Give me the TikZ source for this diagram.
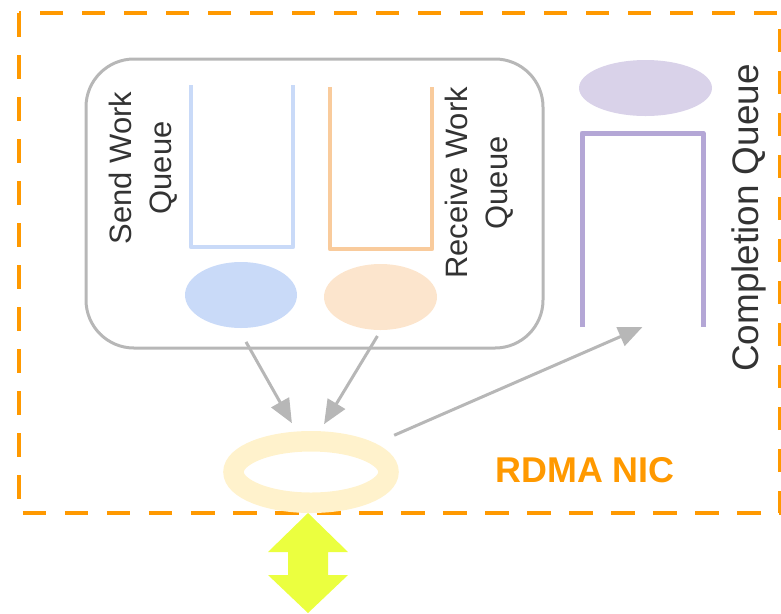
\documentclass[tikz,border=0pt]{standalone}
\usepackage{fontspec}
\setmainfont{Liberation Sans}
\usetikzlibrary{arrows.meta,shapes.geometric}

\definecolor{nicorange}{HTML}{FF9900}
\definecolor{boxgray}{HTML}{B7B7B7}
\definecolor{labelgray}{HTML}{333333}
\definecolor{sendblue}{HTML}{C9DAF8}
\definecolor{recvorange}{HTML}{F9CB9C}
\definecolor{recvpeach}{HTML}{FCE5CD}
\definecolor{cqlilac}{HTML}{D9D2E9}
\definecolor{cqpurple}{HTML}{B4A7D6}
\definecolor{portyellow}{HTML}{FFF2CC}
\definecolor{linkyellow}{HTML}{EBFF3F}

\begin{document}
\begin{tikzpicture}[
        wqframe/.style={draw=boxgray, line width=0.06cm, rounded corners=0.96cm,
                        minimum width=9.14cm, minimum height=5.78cm},
        slot/.style={minimum width=2.04cm, minimum height=3.24cm, inner sep=0, outer sep=0},
        entry/.style={ellipse, inner sep=0, outer sep=0,
                      minimum width=2.24cm, minimum height=1.32cm},
        qline/.style={line width=0.09cm, line join=round},
        lbl/.style={rotate=90, align=center, text=labelgray,
                    font=\fontsize{17.6}{22.5}\selectfont},
        arr/.style={-{Triangle[length=0.48cm, width=0.4cm]}, draw=boxgray, line width=0.06cm}
    ]
    \useasboundingbox (0,0) rectangle (15.62,-12.26);

    % NIC boundary
    \draw[nicorange, line width=0.08cm, dash pattern=on 0.47cm off 0.37cm]
        (0.38,-0.26) rectangle (15.60,-10.26);
    \node[text=nicorange, font=\bfseries\fontsize{20.4}{24}\selectfont] (nic) at (11.70,-9.40) {RDMA NIC};

    % work queues
    \node[wqframe] (wq) at (6.29,-4.07) {};
    \node[slot] (sendq) at (4.84,-3.32) {};
    \node[slot] (recvq) at (7.62,-3.36) {};
    \draw[qline, sendblue]   (sendq.north west) |- (sendq.south east) -- (sendq.north east);
    \draw[qline, recvorange] (recvq.north west) |- (recvq.south east) -- (recvq.north east);
    \node[entry, fill=sendblue] (sq) at (4.82,-5.90) {};
    \node[entry, fill=recvpeach, minimum width=2.26cm] (rq) at (7.61,-5.94) {};
    \node[lbl] (sendlbl) at (2.86,-3.36) {Send Work\\Queue};
    \node[lbl] (recvlbl) at (9.58,-3.66) {Receive Work\\Queue};

    % completion queue
    \node[entry, fill=cqlilac, minimum width=2.66cm, minimum height=1.12cm] (cqe) at (12.91,-1.76) {};
    \node[slot, minimum width=2.42cm, minimum height=3.88cm] (cq) at (12.85,-4.60) {};
    \draw[qline, cqpurple, line width=0.1cm] (cq.south west) |- (cq.north east) -- (cq.south east);
    \node[lbl, font=\fontsize{21}{25}\selectfont] (cqlbl) at (14.98,-4.36) {Completion Queue};

    % port and link
    \node[ellipse, draw=portyellow, line width=0.41cm, inner sep=0, outer sep=0,
          minimum width=3.10cm, minimum height=1.23cm] (port) at (6.22,-9.44) {};
    \fill[linkyellow] (6.16,-10.26) -- (6.96,-11.04) -- (6.56,-11.04) -- (6.56,-11.50)
        -- (6.96,-11.50) -- (6.16,-12.26) -- (5.36,-11.50) -- (5.76,-11.50)
        -- (5.76,-11.04) -- (5.36,-11.04) -- cycle;

    \draw[arr, shorten <=0.32cm, shorten >=0.42cm] (sq.-95) -- (port.106);
    \draw[arr, shorten <=0.14cm, shorten >=0.40cm] (rq.-89) -- (port.85);
    \draw[arr, shorten <=0.69cm] (port.24) -- (cq.south);
\end{tikzpicture}
\end{document}
